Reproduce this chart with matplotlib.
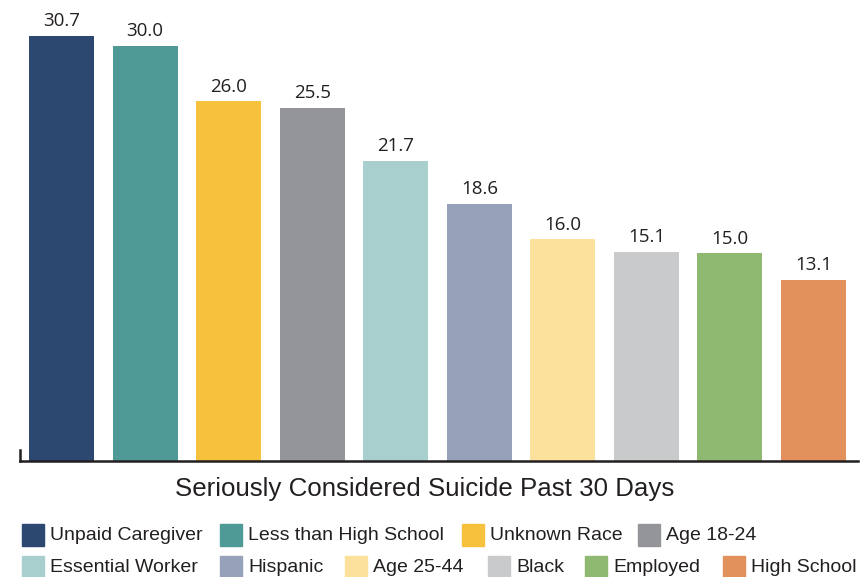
import matplotlib.pyplot as plt
import matplotlib.patches as mpatches

categories = ['Unpaid Caregiver', 'Less than High School', 'Unknown Race', 'Age 18-24',
              'Essential Worker', 'Hispanic', 'Age 25-44', 'Black', 'Employed', 'High School']
values = [30.7, 30.0, 26.0, 25.5, 21.7, 18.6, 16.0, 15.1, 15.0, 13.1]
colours = ['#2C4770', '#4F9A96', '#F6C23E', '#939598', '#A8CFCD',
           '#95A2BA', '#FBE19B', '#C9CACC', '#8FB870', '#E3915C']
title = 'Seriously Considered Suicide Past 30 Days'
legend_rows = [[0, 1, 2, 3], [4, 5, 6, 7, 8, 9]]

W, H = 865, 577
fig = plt.figure(figsize=(W / 100, H / 100), dpi=100)
ax = fig.add_axes([20 / W, 1 - 461 / H, (858 - 20) / W, 461 / H])

x = range(len(values))
ax.bar(x, values, width=0.778, color=colours)
for i, v in enumerate(values):
    ax.text(i, v + 0.4, f'{v:.1f}', ha='center', va='bottom',
            fontsize=13.5, family='Open Sans', color='#231F20')

ax.set_xlim(-0.497, 9.532)
ax.set_ylim(0, 33.3)
for s in ['top', 'right']:
    ax.spines[s].set_visible(False)
ax.spines['bottom'].set_color('#231F20')
ax.spines['bottom'].set_linewidth(1.8)
ax.spines['left'].set_color('#231F20')
ax.spines['left'].set_linewidth(1.8)
ax.spines['left'].set_bounds(0, 0.8)
ax.set_xticks([])
ax.set_yticks([])

fig.text(425 / W, 1 - 489 / H, title, ha='center', va='center',
         fontsize=18.6, family='Liberation Sans', color='#231F20')

# legend: swatch left edges in pixels, one list per row
swatch_x = [[22, 220, 462, 638], [22, 220, 345, 488, 585, 723]]
row_y = [535, 567]
sw = 22
for row, xs, yy in zip(legend_rows, swatch_x, row_y):
    for i, xx in zip(row, xs):
        fig.add_artist(mpatches.Rectangle((xx / W, 1 - (yy + sw / 2) / H), sw / W, sw / H,
                                          color=colours[i], transform=fig.transFigure))
        fig.text((xx + sw + 6) / W, 1 - yy / H, categories[i], ha='left', va='center',
                 fontsize=14, family='Liberation Sans', color='#231F20')

fig.savefig('out.png', dpi=100)
